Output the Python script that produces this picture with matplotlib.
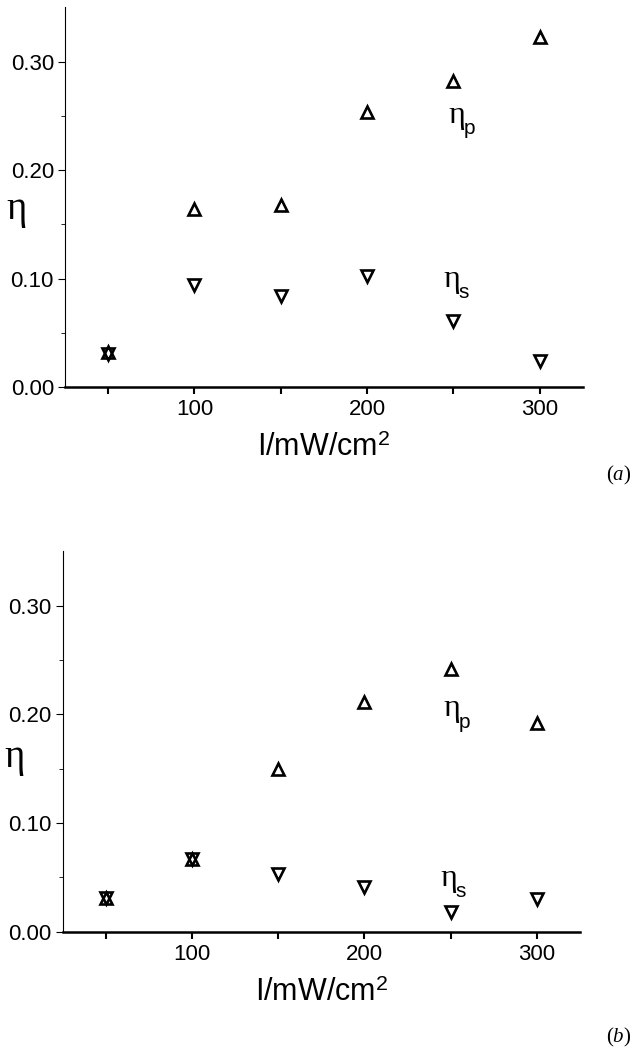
import numpy as np
import matplotlib
matplotlib.use('Agg')
import matplotlib.pyplot as plt

plt.rcParams['font.family'] = ['Liberation Sans', 'DejaVu Sans']
plt.rcParams['mathtext.fontset'] = 'custom'
plt.rcParams['mathtext.rm'] = 'Liberation Serif'
plt.rcParams['mathtext.it'] = 'Liberation Serif:italic'
plt.rcParams['mathtext.sf'] = 'Liberation Sans'

# Data
intensity = [50, 100, 150, 200, 250, 300]

eta_p_a = [0.032, 0.164, 0.168, 0.254, 0.282, 0.323]
eta_s_a = [0.030, 0.094, 0.084, 0.102, 0.061, 0.024]

eta_p_b = [0.031, 0.067, 0.150, 0.211, 0.242, 0.192]
eta_s_b = [0.031, 0.067, 0.053, 0.041, 0.018, 0.030]

x_ticks = [50, 100, 150, 200, 250, 300]
x_ticklabels = ['', '100', '', '200', '', '300']
y_ticks = [0.00, 0.10, 0.20, 0.30]
y_ticklabels = ['0.00', '0.10', '0.20', '0.30']

fig = plt.figure(figsize=(6.4, 10.63), dpi=100)
ax_a = fig.add_axes([0.1016, 0.636, 0.809, 0.357])
ax_b = fig.add_axes([0.098, 0.1235, 0.808, 0.358])


def eta_label(ax, x, y, sub):
    # eta in serif, subscript in sans, placed by hand like the original
    ax.text(x, y, 'η', fontsize=23, family='Liberation Serif', va='baseline', ha='left')
    ax.annotate(sub, xy=(x, y), xytext=(11, -8), textcoords='offset points',
                fontsize=15, va='baseline', ha='left')


def style_axis(ax, eta_p, eta_s, label_p_pos, label_s_pos, ylab_y):
    ax.plot(intensity, eta_p, linestyle='none', marker='^', ms=9, mfc='none',
            mec='black', mew=1.9)
    ax.plot(intensity, eta_s, linestyle='none', marker='v', ms=9, mfc='none',
            mec='black', mew=1.9)
    ax.set_xlim(25, 325)
    ax.set_ylim(0, 0.35)
    ax.spines['top'].set_visible(False)
    ax.spines['right'].set_visible(False)
    ax.spines['bottom'].set_linewidth(1.8)
    ax.spines['left'].set_linewidth(0.8)
    ax.set_xticks(x_ticks)
    ax.set_xticklabels(x_ticklabels, fontsize=16)
    ax.set_yticks(y_ticks)
    ax.set_yticklabels(y_ticklabels, fontsize=16)
    ax.set_yticks(np.arange(0.05, 0.35, 0.1), minor=True)
    ax.tick_params(axis='x', direction='out', length=5, width=1.5, pad=4)
    ax.tick_params(axis='y', direction='out', length=5, width=0.8, pad=3)
    ax.tick_params(axis='y', which='minor', direction='out', length=3, width=0.6)
    ax.set_xlabel('I/mW/cm$^\\mathsf{2}$', fontsize=22, labelpad=9)
    ax.set_ylabel('η', fontsize=28, family='Liberation Serif', rotation=0)
    ax.yaxis.set_label_coords(-0.093, ylab_y)
    eta_label(ax, label_p_pos[0], label_p_pos[1], 'p')
    eta_label(ax, label_s_pos[0], label_s_pos[1], 's')


style_axis(ax_a, eta_p_a, eta_s_a, (247, 0.2435), (244, 0.0926), 0.42)
style_axis(ax_b, eta_p_b, eta_s_b, (246, 0.198), (244, 0.042), 0.41)

fig.text(0.967, 0.553, '$(a)$', fontsize=15, ha='center', va='center')
fig.text(0.967, 0.024, '$(b)$', fontsize=15, ha='center', va='center')

fig.savefig('out.png', dpi=100)
